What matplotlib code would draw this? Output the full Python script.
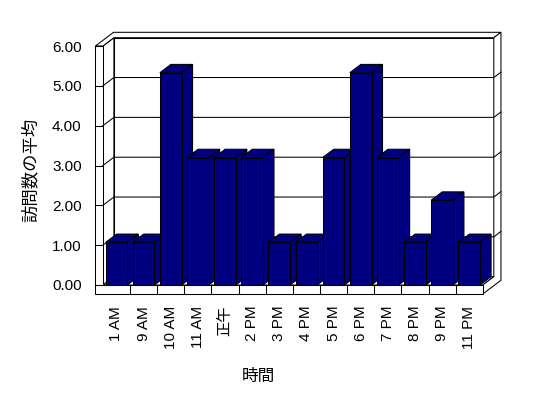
import matplotlib
matplotlib.use('Agg')
import matplotlib.pyplot as plt
from matplotlib.patches import Polygon
from matplotlib.lines import Line2D

# ---- data ----
categories = ['1 AM', '9 AM', '10 AM', '11 AM', '正午', '2 PM', '3 PM',
              '4 PM', '5 PM', '6 PM', '7 PM', '8 PM', '9 PM', '11 PM']
values = [1.07, 1.07, 5.33, 3.20, 3.20, 3.20, 1.07,
          1.07, 3.20, 5.33, 3.20, 1.07, 2.13, 1.07]
y_ticks = [0, 1, 2, 3, 4, 5, 6]
y_tick_labels = ['0.00', '1.00', '2.00', '3.00', '4.00', '5.00', '6.00']
x_title = '時間'
y_title = '訪問数の平均'

# ---- layout ----
W, H = 548, 398
fig = plt.figure(figsize=(W / 100, H / 100), dpi=100)
fig.patch.set_facecolor('white')
L, R, T, B = 102.9, 482.8, 46.0, 285.0
ax = fig.add_axes([L / W, 1 - B / H, (R - L) / W, (B - T) / H])
n = len(categories)
ymax = y_ticks[-1]
ax.set_xlim(-0.5, n - 0.5)
ax.set_ylim(0, ymax)
for s in ax.spines.values():
    s.set_visible(False)
ax.patch.set_visible(False)

sx = (R - L) / n          # px per category
sy = (B - T) / ymax       # px per unit
DX = 11.0 / sx
DY = 8.3 / sy
TL = 7.5 / sx
TF = 9.0 / sy
TB = 0.65

def proj(x, y, z):
    return (x + z * DX, y + z * DY)

LW = 0.75
xLo, xLi, xR = -0.5 - TL, -0.5, n - 0.5

def poly(pts, fc, z):
    p = Polygon([proj(*q) for q in pts], closed=True, facecolor=fc,
                edgecolor='black', lw=LW, zorder=z, clip_on=False,
                joinstyle='miter')
    ax.add_patch(p)

# walls
poly([(xLi, 0, 1), (xR, 0, 1), (xR, ymax, 1), (xLi, ymax, 1)], 'white', 1)
poly([(xLi, 0, 0), (xLi, ymax, 0), (xLi, ymax, 1), (xLi, 0, 1)], 'white', 1)
poly([(xLi, 0, 0), (xR, 0, 0), (xR, 0, 1), (xLi, 0, 1)], 'white', 1)
poly([(xLo, ymax, 0), (xLi, ymax, 0), (xLi, ymax, 1), (xR, ymax, 1),
      (xR, ymax, 1 + TB), (xLo, ymax, 1 + TB)], 'white', 1)
poly([(xR, -TF, 0), (xR, 0, 0), (xR, 0, 1), (xR, ymax, 1),
      (xR, ymax, 1 + TB), (xR, -TF, 1 + TB)], 'white', 1)
poly([(xLo, -TF, 0), (xR, -TF, 0), (xR, 0, 0), (xLi, 0, 0),
      (xLi, ymax, 0), (xLo, ymax, 0)], 'white', 1)

def line(pts, z=2):
    xs, ys = zip(*[proj(*q) for q in pts])
    ax.add_line(Line2D(xs, ys, color='black', lw=LW, zorder=z,
                       clip_on=False, solid_joinstyle='miter'))

# gridlines
for v in y_ticks[1:-1]:
    line([(xLi, v, 0), (xLi, v, 1), (xR, v, 1), (xR, v, 1 + TB)])
# tick marks on left wall front
for v in y_ticks:
    line([(xLo, v, 0), (xLi, v, 0)])
# category dividers on floor front
for k in range(1, n):
    line([(k - 0.5, -TF, 0), (k - 0.5, 0, 0)])

# bars
BW = 0.8
bars = ax.bar(range(n), values, width=BW, color='#000080',
              edgecolor='black', lw=LW, clip_on=False)
for i, (rect, v) in enumerate(zip(bars, values)):
    rect.set_zorder(10 + 2 * i + 1)
    x0, x1 = i - BW / 2, i + BW / 2
    poly([(x0, v, 0), (x1, v, 0), (x1, v, 1), (x0, v, 1)], '#000080', 10 + 2 * i)
    poly([(x1, 0, 0), (x1, v, 0), (x1, v, 1), (x1, 0, 1)], '#000080', 10 + 2 * i)

# ticks & labels
tick_font = ['Liberation Sans', 'Noto Sans CJK JP']
ax.set_yticks(y_ticks)
ax.set_yticklabels(y_tick_labels, fontsize=11, family=tick_font)
ax.set_xticks(range(n))
ax.set_xticklabels(categories, rotation=90, fontsize=11, family=tick_font)
ax.tick_params(axis='y', length=0, pad=15.3)
ax.tick_params(axis='x', length=0, pad=15.0)

ax.set_xlabel(x_title, fontsize=12, family=['Noto Sans CJK JP'])
ax.xaxis.label.set_va('center')
ax.xaxis.set_label_coords((258 - L) / (R - L), (B - 376) / (B - T))
ax.set_ylabel(y_title, fontsize=12.5, family=['Noto Sans CJK JP'])
ax.yaxis.label.set_va('center')
ax.yaxis.set_label_coords((31 - L) / (R - L), (B - 170) / (B - T))

fig.savefig('out.png', dpi=100, facecolor='white')
